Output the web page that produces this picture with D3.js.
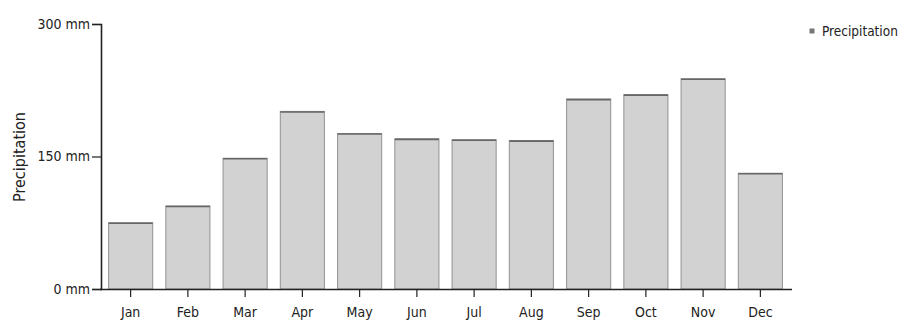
<!DOCTYPE html>
<html>
<head>
<meta charset="utf-8">
<script src="https://cdn.jsdelivr.net/npm/d3@7"></script>
<style>
  html, body { margin: 0; padding: 0; background: #fff; }
  svg { display: block; }
  text { font-family: "DejaVu Sans Condensed", "DejaVu Sans", sans-serif; fill: #222; }
</style>
</head>
<body>
<svg id="chart" width="903" height="320"></svg>
<script>
// Monthly precipitation (mm)
const months = ["Jan", "Feb", "Mar", "Apr", "May", "Jun", "Jul", "Aug", "Sep", "Oct", "Nov", "Dec"];
const precipitation = [75, 94, 148, 201, 176, 170, 169, 168, 215, 220, 238, 131];
const yTicks = [0, 150, 300];
const seriesName = "Precipitation";

const svg = d3.select("#chart");

const x = d3.scaleBand()
  .domain(months)
  .range([102, 789])
  .paddingInner(0.23)
  .paddingOuter(0.115);

const y = d3.scaleLinear()
  .domain([0, 300])
  .range([289, 24]);

const rows = months.map((m, i) => ({ m, v: precipitation[i] }));

// bars
svg.append("g")
  .selectAll("rect")
  .data(rows)
  .join("rect")
  .attr("x", d => x(d.m))
  .attr("y", d => y(d.v))
  .attr("width", x.bandwidth())
  .attr("height", d => y(0) - y(d.v))
  .attr("fill", "#d2d2d2")
  .attr("stroke", "#999")
  .attr("stroke-width", 1.1);

// darker cap on each bar
svg.append("g")
  .selectAll("line")
  .data(rows)
  .join("line")
  .attr("x1", d => x(d.m))
  .attr("x2", d => x(d.m) + x.bandwidth())
  .attr("y1", d => y(d.v) + 0.5)
  .attr("y2", d => y(d.v) + 0.5)
  .attr("stroke", "#666")
  .attr("stroke-width", 1.6);

// y axis
const yAxis = svg.append("g")
  .attr("transform", "translate(101,0)")
  .call(d3.axisLeft(y).tickValues(yTicks).tickFormat(d => d + " mm").tickSizeOuter(0).tickSize(9).tickPadding(2));
yAxis.select(".domain").attr("stroke", "#222").attr("stroke-width", 1.6);
yAxis.selectAll(".tick line").attr("stroke", "#222").attr("stroke-width", 1.2);
yAxis.selectAll(".tick text").style("font-size", "14px").attr("fill", "#222")
  .style("font-family", "'DejaVu Sans Condensed', 'DejaVu Sans', sans-serif");

// x axis
const xAxis = svg.append("g")
  .attr("transform", "translate(0,289)")
  .call(d3.axisBottom(x).tickSizeOuter(0).tickSize(8).tickPadding(10));
xAxis.select(".domain").attr("d", "M100,0.5H792").attr("stroke", "#222").attr("stroke-width", 1.6);
xAxis.selectAll(".tick line").attr("stroke", "#222").attr("stroke-width", 1.2);
xAxis.selectAll(".tick text").style("font-size", "14px").attr("fill", "#222")
  .style("font-family", "'DejaVu Sans Condensed', 'DejaVu Sans', sans-serif");

// y title
svg.append("text")
  .attr("transform", "translate(25,157) rotate(-90)")
  .attr("text-anchor", "middle")
  .style("font-size", "16px")
  .text(seriesName);

// legend
const legend = svg.append("g").attr("transform", "translate(812,31)");
legend.append("rect")
  .attr("x", -2.5).attr("y", -2.5).attr("width", 5).attr("height", 5)
  .attr("fill", "#777");
legend.append("text")
  .attr("x", 10).attr("y", 5)
  .style("font-size", "13.5px")
  .text(seriesName);
</script>
</body>
</html>
